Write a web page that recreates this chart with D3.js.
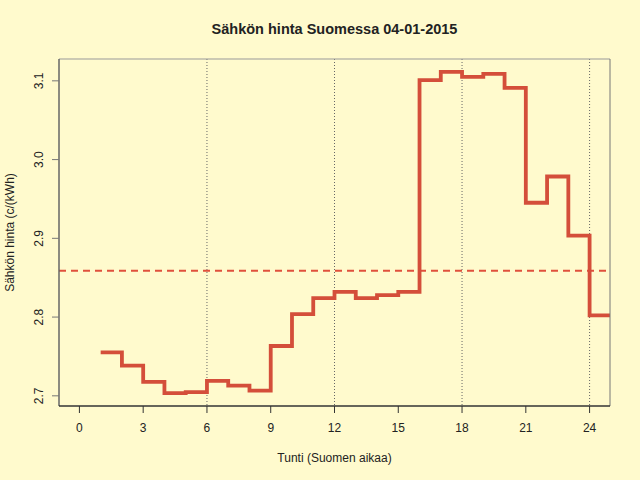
<!DOCTYPE html>
<html>
<head>
<meta charset="utf-8">
<script src="https://cdn.jsdelivr.net/npm/d3@7"></script>
<style>
  body { margin: 0; background: #fffacd; }
  text { font-family: "Liberation Sans", Arial, sans-serif; fill: #222; }
</style>
</head>
<body>
<script>
// hourly price, c/kWh, hours 1..24
const hours = d3.range(1, 25);
const prices = [2.7553, 2.7384, 2.7177, 2.7034, 2.7047, 2.7190, 2.7130, 2.7067,
  2.7633, 2.8038, 2.8241, 2.8320, 2.8241, 2.8278, 2.8320, 3.1009,
  3.1114, 3.1051, 3.1089, 3.0911, 2.9452, 2.9785, 2.9034, 2.8021];
const xTicks = [0, 3, 6, 9, 12, 15, 18, 21, 24];
const yTicks = [2.7, 2.8, 2.9, 3.0, 3.1];
const gridHours = [6, 12, 18, 24];

const w = 640, h = 480;
const pLeft = 59, pRight = 610, pTop = 59, pBottom = 406;

const svg = d3.select('body').append('svg')
  .attr('width', w).attr('height', h);

svg.append('rect').attr('width', w).attr('height', h).attr('fill', '#fffacd');

// R style 4% axis extension
const xPad = 0.04 * 24;
const x = d3.scaleLinear().domain([0 - xPad, 24 + xPad]).range([pLeft, pRight]);
const [ymin, ymax] = d3.extent(prices);
const yPad = 0.04 * (ymax - ymin);
const y = d3.scaleLinear().domain([ymin - yPad, ymax + yPad]).range([pBottom, pTop]);

svg.append('clipPath').attr('id', 'plot')
  .append('rect').attr('x', pLeft).attr('y', pTop)
  .attr('width', pRight - pLeft).attr('height', pBottom - pTop);

// dotted verticals
svg.selectAll('.grid').data(gridHours).enter().append('line')
  .attr('x1', d => x(d)).attr('x2', d => x(d))
  .attr('y1', pTop).attr('y2', pBottom)
  .attr('stroke', '#666').attr('stroke-width', 1)
  .attr('stroke-dasharray', '1,2');

// mean line
const avg = d3.mean(prices);
svg.append('line')
  .attr('x1', pLeft).attr('x2', pRight)
  .attr('y1', y(avg)).attr('y2', y(avg))
  .attr('stroke', '#e0503c').attr('stroke-width', 2)
  .attr('stroke-dasharray', '7,5');

// step line (last value held to hour 25)
const pts = hours.map((d, i) => [d, prices[i]]);
pts.push([25, prices[prices.length - 1]]);
const line = d3.line()
  .x(d => x(d[0])).y(d => y(d[1]))
  .curve(d3.curveStepAfter);
svg.append('path').datum(pts)
  .attr('clip-path', 'url(#plot)')
  .attr('d', line)
  .attr('fill', 'none')
  .attr('stroke', '#d44e3a').attr('stroke-width', 3.8)
  .attr('stroke-linejoin', 'miter');

// box
svg.append('line').attr('x1', pLeft).attr('x2', pRight).attr('y1', pTop).attr('y2', pTop)
  .attr('stroke', '#999');
svg.append('line').attr('x1', pRight).attr('x2', pRight).attr('y1', pTop).attr('y2', pBottom)
  .attr('stroke', '#777');
svg.append('line').attr('x1', pLeft).attr('x2', pLeft).attr('y1', pTop).attr('y2', pBottom)
  .attr('stroke', '#666').attr('stroke-width', 1.5);
svg.append('line').attr('x1', pLeft).attr('x2', pRight).attr('y1', pBottom).attr('y2', pBottom)
  .attr('stroke', '#333').attr('stroke-width', 1.5);

// x axis
const xAxis = svg.append('g');
xAxis.selectAll('line').data(xTicks).enter().append('line')
  .attr('x1', d => x(d)).attr('x2', d => x(d))
  .attr('y1', pBottom).attr('y2', pBottom + 7)
  .attr('stroke', '#333');
xAxis.selectAll('text').data(xTicks).enter().append('text')
  .attr('x', d => x(d)).attr('y', 432)
  .attr('text-anchor', 'middle').attr('font-size', 12)
  .text(d => d);

// y axis
const yAxis = svg.append('g');
yAxis.selectAll('line').data(yTicks).enter().append('line')
  .attr('x1', pLeft - 7).attr('x2', pLeft)
  .attr('y1', d => y(d)).attr('y2', d => y(d))
  .attr('stroke', '#777');
yAxis.selectAll('text').data(yTicks).enter().append('text')
  .attr('transform', d => `translate(43,${y(d)}) rotate(-90)`)
  .attr('text-anchor', 'middle').attr('font-size', 12)
  .text(d => d.toFixed(1));

// titles
svg.append('text')
  .attr('x', (pLeft + pRight) / 2).attr('y', 34)
  .attr('text-anchor', 'middle')
  .attr('font-size', 14.5).attr('font-weight', 'bold')
  .text('Sähkön hinta Suomessa 04-01-2015');

svg.append('text')
  .attr('x', (pLeft + pRight) / 2).attr('y', 462)
  .attr('text-anchor', 'middle').attr('font-size', 12)
  .text('Tunti (Suomen aikaa)');

svg.append('text')
  .attr('transform', `translate(14,${(pTop + pBottom) / 2}) rotate(-90)`)
  .attr('text-anchor', 'middle').attr('font-size', 12)
  .text('Sähkön hinta (c/(kWh)');
</script>
</body>
</html>
